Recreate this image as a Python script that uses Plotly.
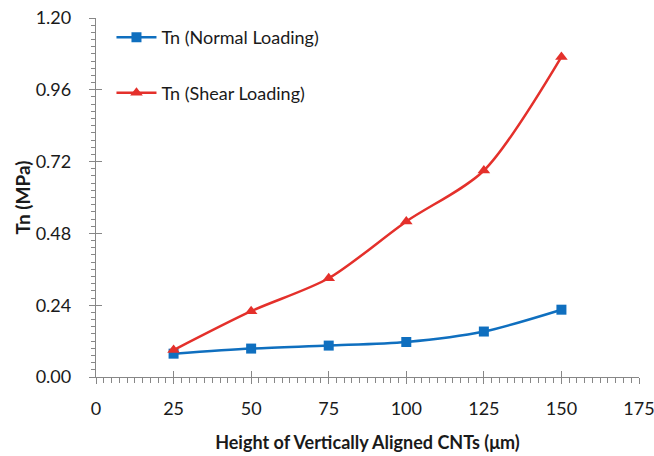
import plotly.graph_objects as go

heights = [25, 50, 75, 100, 125, 150]
tn_normal = [0.078, 0.095, 0.105, 0.117, 0.152, 0.225]
tn_shear = [0.090, 0.220, 0.330, 0.520, 0.690, 1.070]

x_ticks = [0, 25, 50, 75, 100, 125, 150, 175]
y_ticks = [0.00, 0.24, 0.48, 0.72, 0.96, 1.20]
y_tick_labels = ["0.00", "0.24", "0.48", "0.72", "0.96", "1.20"]

BLUE = "#0F6FBF"
RED = "#E4302B"
AXIS = "#878787"
FONT = "Lato"
TXT = "#1a1a1a"

fig = go.Figure()
fig.add_trace(go.Scatter(
    x=heights, y=tn_normal, name="Tn (Normal Loading)", legendgroup="a",
    mode="lines+markers", line=dict(color=BLUE, width=2.5, shape="spline", smoothing=0.8),
    marker=dict(symbol="square", size=10, color=BLUE)))
fig.add_trace(go.Scatter(
    x=heights, y=tn_shear, name="Tn (Shear Loading)", legendgroup="b",
    mode="lines+markers", line=dict(color=RED, width=2.5, shape="spline", smoothing=0.8),
    marker=dict(symbol="triangle-up", size=11, color=RED)))

fig.update_layout(
    width=654, height=456,
    margin=dict(l=96, r=15, t=18, b=79),
    paper_bgcolor="white", plot_bgcolor="white",
    font=dict(family=FONT, size=18, color=TXT),
    showlegend=True,
    legend=dict(x=0.0285, y=0.997, xanchor="left", yanchor="top",
                bgcolor="rgba(0,0,0,0)", tracegroupgap=29,
                font=dict(family=FONT, size=18, color=TXT),
                itemwidth=40),
    xaxis=dict(range=[0, 175], tickvals=x_ticks, showgrid=False, zeroline=False,
               showline=True, linecolor=AXIS, linewidth=1.3, automargin=False,
               ticks="outside", ticklen=6, tickcolor=AXIS, tickwidth=1.3,
               ticklabelstandoff=9, ticklabeloverflow="allow",
               tickfont=dict(family=FONT, size=18, color=TXT),
               minor=dict(dtick=2.5, ticks="outside", ticklen=5, tickcolor=AXIS, tickwidth=1),
               title=dict(text="<b>Height of Vertically Aligned CNTs (μm)</b>", standoff=18,
                          font=dict(family=FONT, size=18, color=TXT))),
    yaxis=dict(range=[0, 1.2], tickvals=y_ticks, ticktext=y_tick_labels, showgrid=False,
               zeroline=False, showline=True, linecolor=AXIS, linewidth=1.3, automargin=False,
               ticks="outside", ticklen=6, tickcolor=AXIS, tickwidth=1.3,
               ticklabelstandoff=14, ticklabeloverflow="allow",
               tickfont=dict(family=FONT, size=18, color=TXT),
               minor=dict(dtick=0.024, ticks="outside", ticklen=4, tickcolor=AXIS, tickwidth=1),
               title=dict(text="<b>Tn (MPa)</b>", standoff=0,
                          font=dict(family=FONT, size=19, color=TXT))),
    xaxis2=dict(overlaying="x", matches="x", range=[0, 175], tickvals=x_ticks,
                showticklabels=False, showgrid=False, zeroline=False, showline=False,
                ticks="inside", ticklen=6, tickcolor=AXIS, tickwidth=1.3, anchor="y"),
    yaxis2=dict(overlaying="y", matches="y", range=[0, 1.2], tickvals=y_ticks,
                showticklabels=False, showgrid=False, zeroline=False, showline=False,
                ticks="inside", ticklen=6, tickcolor=AXIS, tickwidth=1.3, anchor="x"),
)

# invisible trace to bind the overlay axes that draw the inner half of the crossing ticks
fig.add_trace(go.Scatter(x=[heights[0]], y=[tn_normal[0]], xaxis="x2", yaxis="y2",
                         mode="markers", marker=dict(opacity=0), showlegend=False,
                         hoverinfo="skip"))

fig.write_html("out.html", config={"displayModeBar": False},
               post_script="document.body.style.margin='0';document.body.style.overflow='hidden';")
